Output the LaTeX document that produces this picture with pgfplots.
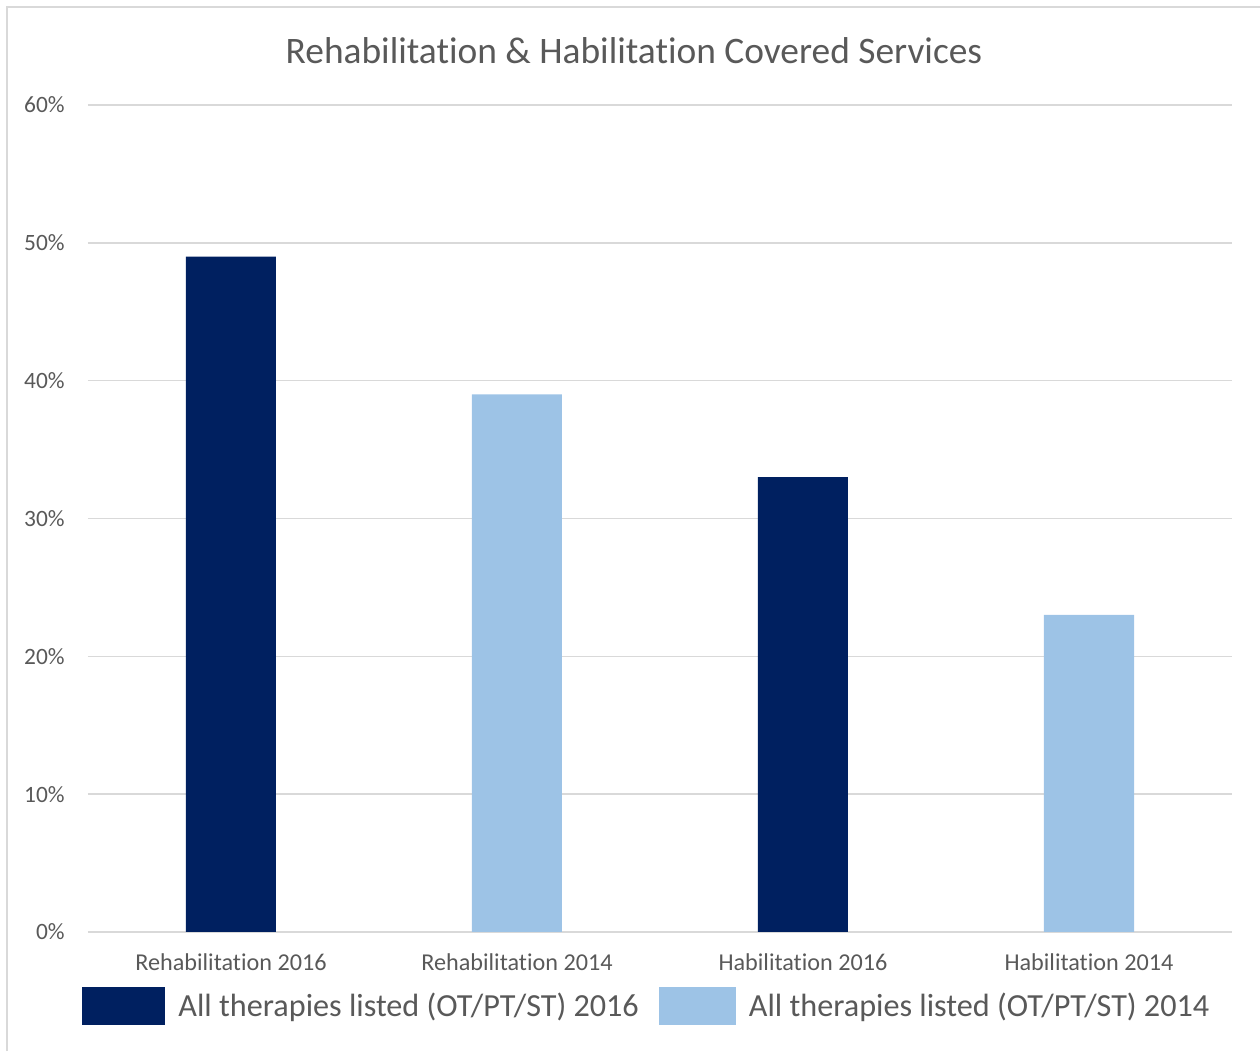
\documentclass[border=0pt]{standalone}
\usepackage{pgfplots}
\pgfplotsset{compat=1.18}
\usepackage{fontspec}
\setmainfont{Carlito}[Ligatures={NoCommon}]
\definecolor{navy}{HTML}{002060}
\definecolor{lblue}{HTML}{9DC3E6}
\definecolor{gridc}{HTML}{D9D9D9}
\definecolor{txt}{HTML}{595959}
\begin{document}
\begin{tikzpicture}
\path[use as bounding box] (0pt,0pt) rectangle (630pt,525.5pt);
\draw[gridc, line width=1pt] (3.5pt,0pt) -- (3.5pt,522pt) -- (630pt,522pt);
\node[text=txt, font=\fontsize{18.7}{22}\selectfont] at (317pt,500pt) {Rehabilitation \& Habilitation Covered Services};
\begin{axis}[
  at={(44pt,59.5pt)}, anchor=south west,
  scale only axis, width=572pt, height=413.5pt,
  xmin=-0.5, xmax=3.5, ymin=0, ymax=60,
  ybar, bar width=45pt, bar shift=0pt,
  xtick={0,1,2,3},
  xticklabels={Rehabilitation 2016, Rehabilitation 2014, Habilitation 2016, Habilitation 2014},
  ytick={0,10,20,30,40,50,60},
  yticklabels={0\%,10\%,20\%,30\%,40\%,50\%,60\%},
  axis line style={draw=none},
  tick style={draw=none},
  ymajorgrids,
  major grid style={draw=gridc, line width=0.75pt},
  xticklabel style={anchor=center, yshift=-11pt, text=txt, font=\fontsize{12.1}{14}\selectfont},
  yticklabel style={anchor=east, inner sep=0pt, xshift=-11.5pt, text=txt, font=\fontsize{11.7}{14}\selectfont},
  legend columns=2,
  legend style={at={(axis description cs:-0.0052,-0.0895)}, anchor=west, draw=none, inner sep=0pt,
    nodes={inner sep=0pt, text=txt, font=\fontsize{16.1}{19}\selectfont},
    /tikz/every odd column/.append style={column sep=6.5pt},
    /tikz/every even column/.append style={column sep=10pt}},
]
\addplot[fill=navy, draw=none, legend image code/.code={\fill[navy] (0pt,-9.5pt) rectangle (41.5pt,9.5pt);}] coordinates {(0,49) (2,33)};
\addplot[fill=lblue, draw=none, legend image code/.code={\fill[lblue] (0pt,-9.5pt) rectangle (38.5pt,9.5pt);}] coordinates {(1,39) (3,23)};
\legend{All therapies listed (OT/PT/ST) 2016, All therapies listed (OT/PT/ST) 2014}
\end{axis}
\end{tikzpicture}
\end{document}
